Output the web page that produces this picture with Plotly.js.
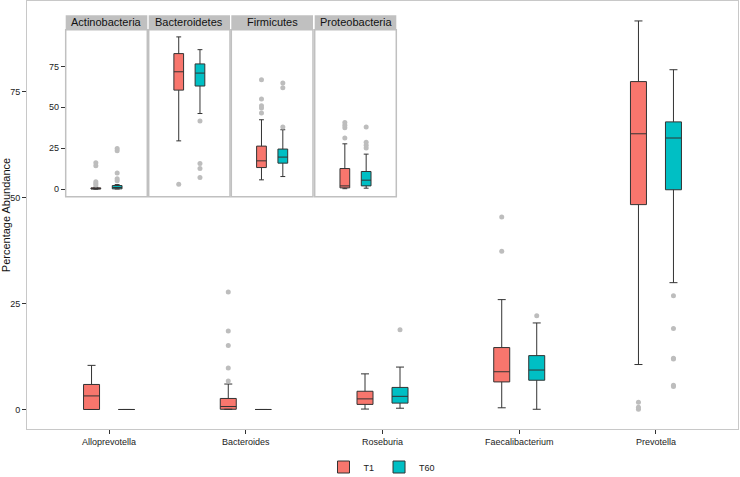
<!DOCTYPE html>
<html>
<head>
<meta charset="utf-8">
<script src="https://cdn.plot.ly/plotly-3.0.1.min.js"></script>
<style>html,body{margin:0;padding:0;background:#fff;}#chart{width:740px;height:477px;}</style>
</head>
<body>
<div id="chart"></div>
<script>
// ---------- DATA ----------
const genera = ['Alloprevotella', 'Bacteroides', 'Roseburia', 'Faecalibacterium', 'Prevotella'];
const groups = ['T1', 'T60'];

// genus level, T1
const genT1Lower  = [0,    0.05, 0.1, 0.4,  10.6];
const genT1Q1     = [0,    0.05, 1.2, 6.5,  48.3];
const genT1Median = [3.2,  0.7,  2.5, 8.9,  65.0];
const genT1Q3     = [5.9,  2.6,  4.3, 14.6, 77.3];
const genT1Upper  = [10.4, 6.0,  8.4, 25.9, 91.6];
const genT1Out    = [[], [6.7, 9.8, 15.1, 18.5, 27.7], [], [37.3, 45.4], [0.05, 0.5, 1.7]];

// genus level, T60
const genT60Lower  = [0, 0, 0.3,  0.05, 29.9];
const genT60Q1     = [0, 0, 1.5,  6.9,  51.8];
const genT60Median = [0, 0, 3.1,  9.3,  64.0];
const genT60Q3     = [0, 0, 5.2,  12.7, 67.8];
const genT60Upper  = [0, 0, 10.0, 20.4, 80.1];
const genT60Out    = [[], [], [18.8], [22.1], [5.4, 5.7, 11.9, 12.1, 19.1, 26.8]];

// phylum level (inset)
const phyla = ['Actinobacteria', 'Bacteroidetes', 'Firmicutes', 'Proteobacteria'];
const phyT1Lower  = [0,   29.5, 5.7,  0.3];
const phyT1Q1     = [0.1, 60.5, 13.2, 0.8];
const phyT1Median = [0.3, 71.7, 17.3, 2.0];
const phyT1Q3     = [0.8, 82.8, 26.3, 12.6];
const phyT1Upper  = [1.2, 93.0, 42.4, 27.7];
const phyT1Out    = [[2.5, 3.5, 4.6, 14.3, 16.1], [3.0], [46.5, 49.5, 50.9, 55.0, 66.9], [31.2, 37.5, 39.1, 40.7]];

const phyT60Lower  = [0.1, 46.2, 7.7,  0.6];
const phyT60Q1     = [0.2, 63.0, 15.9, 2.0];
const phyT60Median = [1.0, 70.9, 19.6, 5.5];
const phyT60Q3     = [2.2, 76.5, 24.5, 10.8];
const phyT60Upper  = [2.8, 85.2, 36.3, 21.4];
const phyT60Out    = [[5.1, 6.3, 9.8, 23.4, 24.8], [7.1, 12.6, 15.7, 41.6], [38.0, 62.0, 64.8], [25.1, 26.9, 28.7, 37.9]];

const yTicks = [0, 25, 50, 75];

// ---------- STYLE / LAYOUT ----------
const colors = {T1: '#F8766D', T60: '#00BFC4'};
const FONT = 'Liberation Sans, Arial, Helvetica, sans-serif';
const L = 27, R = 738, T = 1, B = 429;
const W = 740, H = 477;
const px2x = p => (p - L) / (R - L);
const px2y = p => (B - p) / (B - T);
const DODGE = 0.128, BOXW = 0.117;   // dodge offset and box width, in category units
const dodgeOf = {T1: -DODGE, T60: DODGE};

function boxTrace(name, idx, lower, q1, med, q3, upper, xa, ya, showleg) {
  return {
    type: 'box', name: name, legendgroup: name, showlegend: showleg,
    x: idx.map(i => i + dodgeOf[name]), width: BOXW,
    q1: q1, median: med, q3: q3, lowerfence: lower, upperfence: upper,
    boxpoints: false,
    fillcolor: colors[name],
    line: {color: '#333333', width: 1},
    xaxis: xa, yaxis: ya, hoverinfo: 'skip'
  };
}
function outlierTrace(name, idx, outs, xa, ya) {
  const xs = [], ys = [];
  idx.forEach((i, k) => outs[k].forEach(v => { xs.push(i + dodgeOf[name]); ys.push(v); }));
  return {type: 'scatter', mode: 'markers', x: xs, y: ys, showlegend: false,
          marker: {color: '#bdbdbd', size: 5}, xaxis: xa, yaxis: ya, hoverinfo: 'skip'};
}

const gIdx = genera.map((g, i) => i);
const traces = [
  boxTrace('T1', gIdx, genT1Lower, genT1Q1, genT1Median, genT1Q3, genT1Upper, 'x', 'y', true),
  boxTrace('T60', gIdx, genT60Lower, genT60Q1, genT60Median, genT60Q3, genT60Upper, 'x', 'y', true),
  outlierTrace('T1', gIdx, genT1Out, 'x', 'y'),
  outlierTrace('T60', gIdx, genT60Out, 'x', 'y')
];

const panelPx = [[65.7, 147.3], [148.7, 230], [231.3, 313], [314.7, 396.3]];
const insetBottom = 196.7, insetTop = 29.7, stripTop = 15.3;

const layout = {
  width: W, height: H,
  margin: {l: L, r: W - R, t: T, b: H - B, autoexpand: false},
  paper_bgcolor: '#ffffff', plot_bgcolor: '#ffffff',
  font: {family: FONT, color: '#333333', size: 9},
  boxmode: 'overlay',
  showlegend: true,
  legend: {orientation: 'h', x: px2x(382), xanchor: 'center', y: px2y(467), yanchor: 'middle',
           font: {size: 9, color: '#222'}, bgcolor: 'rgba(0,0,0,0)', itemwidth: 30, traceorder: 'normal',
           tracegroupgap: 0},
  xaxis: {range: [-0.6, 4.6], tickvals: gIdx, ticktext: genera, showgrid: false, zeroline: false,
          showline: true, mirror: true, linecolor: '#c8c8c8', linewidth: 1,
          ticks: 'outside', ticklen: 4, tickcolor: '#333333', tickwidth: 1,
          tickfont: {size: 9, color: '#222'}, fixedrange: true, automargin: false},
  yaxis: {range: [-4.6, 96.3], tickvals: yTicks, showgrid: false, zeroline: false,
          showline: true, mirror: true, linecolor: '#c8c8c8', linewidth: 1,
          ticks: 'outside', ticklen: 4, tickcolor: '#333333', tickwidth: 1,
          tickfont: {size: 9, color: '#222'}, automargin: false,
          title: {text: 'Percentage Abundance', font: {size: 11, color: '#111'}, standoff: 6}},
  shapes: [], annotations: []
};

const insetDomY = [px2y(insetBottom), px2y(insetTop)];
phyla.forEach((ph, i) => {
  const n = i + 2;
  const xa = 'x' + n, ya = 'y' + n;
  layout['xaxis' + n] = {domain: [px2x(panelPx[i][0]), px2x(panelPx[i][1])],
    anchor: ya, range: [-0.49, 0.49], showgrid: false, zeroline: false, showline: false,
    showticklabels: false, ticks: '', fixedrange: true};
  layout['yaxis' + n] = {domain: insetDomY, anchor: xa, range: [-4.6, 97.4],
    showgrid: false, zeroline: false, showline: false,
    tickvals: yTicks, showticklabels: i === 0, ticks: i === 0 ? 'outside' : '',
    ticklen: 4, tickcolor: '#333333', tickfont: {size: 9, color: '#222'}, fixedrange: true};
  traces.push(boxTrace('T1', [0], [phyT1Lower[i]], [phyT1Q1[i]], [phyT1Median[i]], [phyT1Q3[i]], [phyT1Upper[i]], xa, ya, false));
  traces.push(boxTrace('T60', [0], [phyT60Lower[i]], [phyT60Q1[i]], [phyT60Median[i]], [phyT60Q3[i]], [phyT60Upper[i]], xa, ya, false));
  traces.push(outlierTrace('T1', [0], [phyT1Out[i]], xa, ya));
  traces.push(outlierTrace('T60', [0], [phyT60Out[i]], xa, ya));
  // panel border
  layout.shapes.push({type: 'rect', xref: 'paper', yref: 'paper',
    x0: px2x(panelPx[i][0]), x1: px2x(panelPx[i][1]), y0: insetDomY[0], y1: insetDomY[1],
    line: {color: '#c0c0c0', width: 1.5}, fillcolor: 'rgba(0,0,0,0)', layer: 'above'});
  // strip
  layout.shapes.push({type: 'rect', xref: 'paper', yref: 'paper',
    x0: px2x(panelPx[i][0]), x1: px2x(panelPx[i][1]), y0: insetDomY[1], y1: px2y(stripTop),
    line: {width: 0}, fillcolor: '#c0c0c0', layer: 'above'});
  layout.annotations.push({xref: 'paper', yref: 'paper',
    x: px2x((panelPx[i][0] + panelPx[i][1]) / 2), y: px2y((stripTop + insetTop) / 2),
    text: ph, showarrow: false, xanchor: 'center', yanchor: 'middle',
    font: {size: 11, color: '#111', family: FONT}});
});

Plotly.newPlot('chart', traces, layout, {displayModeBar: false, staticPlot: true});
</script>
</body>
</html>
